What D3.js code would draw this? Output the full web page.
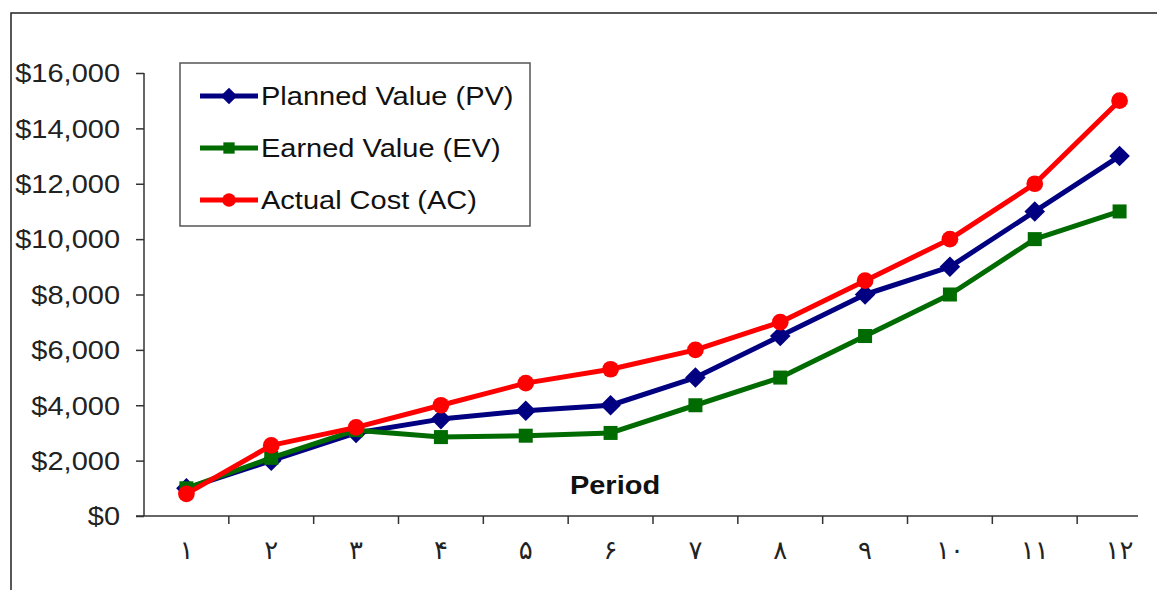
<!DOCTYPE html>
<html>
<head>
<meta charset="utf-8">
<script src="https://cdn.jsdelivr.net/npm/d3@7"></script>
<style>
  html, body { margin: 0; padding: 0; background: #fff; }
  svg { display: block; }
</style>
</head>
<body>
<svg id="chart" width="1157" height="590"></svg>
<script>
const periods = ["۱","۲","۳","۴","۵","۶","۷","۸","۹","۱۰","۱۱","۱۲"];
const yTicks = [0, 2000, 4000, 6000, 8000, 10000, 12000, 14000, 16000];
const plannedValue = [1000, 2000, 3000, 3500, 3800, 4000, 5000, 6500, 8000, 9000, 11000, 13000];
const earnedValue  = [1000, 2100, 3100, 2850, 2900, 3000, 4000, 5000, 6500, 8000, 10000, 11000];
const actualCost   = [800, 2550, 3200, 4000, 4800, 5300, 6000, 7000, 8500, 10000, 12000, 15000];
const seriesNames  = ["Planned Value (PV)", "Earned Value (EV)", "Actual Cost (AC)"];

const colors = ["#000080", "#006b00", "#ff0000"];
const shapes = [d3.symbolDiamond2, d3.symbolSquare2, d3.symbolCircle];
const series = [plannedValue, earnedValue, actualCost].map((vals, i) => ({
  name: seriesNames[i], values: vals, color: colors[i], shape: shapes[i]
}));

const svg = d3.select("#chart");
const font = "'Liberation Sans', Arial, sans-serif";
const SX = 1.16; // horizontal text stretch seen in the reference

// outer frame (top and left edges)
svg.append("path").attr("d", "M11,590 V13 H1157")
  .attr("fill", "none").attr("stroke", "#222").attr("stroke-width", 1.5);

const x = d3.scaleBand().domain(periods).range([144, 1162]);
const y = d3.scaleLinear().domain([0, 16000]).range([516, 73]);

// y axis
const yAxis = svg.append("g").attr("transform", "translate(144,0)")
  .call(d3.axisLeft(y).tickValues(yTicks).tickSize(8)
    .tickFormat(d => "$" + d3.format(",")(d)));
yAxis.select(".domain").attr("stroke", "#333").attr("stroke-width", 1.5)
  .attr("d", `M0,${y(16000)}V${y(0)}`);
yAxis.selectAll(".tick line").attr("stroke", "#333").attr("stroke-width", 1.5);
yAxis.selectAll(".tick text").attr("font-family", font).attr("font-size", 25)
  .attr("fill", "#222").attr("x", -24 / SX).attr("dy", "0.35em")
  .attr("transform", `scale(${SX},1)`);

// x axis
const xAxis = svg.append("g").attr("transform", `translate(0,${y(0)})`);
xAxis.append("line").attr("x1", 136).attr("x2", 1138).attr("y1", 0).attr("y2", 0)
  .attr("stroke", "#333").attr("stroke-width", 1.5);
xAxis.selectAll("line.tk").data(periods.slice(1)).join("line").attr("class", "tk")
  .attr("x1", d => x(d)).attr("x2", d => x(d)).attr("y1", 0).attr("y2", 8)
  .attr("stroke", "#333").attr("stroke-width", 1.5);
xAxis.selectAll("text").data(periods).join("text")
  .attr("x", d => x(d) + x.bandwidth() / 2).attr("y", 43)
  .attr("text-anchor", "middle").attr("font-family", "'DejaVu Sans', sans-serif")
  .attr("font-size", 26).attr("fill", "#222").text(d => d);

// axis title
svg.append("text").attr("transform", `translate(615,494) scale(${SX},1)`)
  .attr("text-anchor", "middle")
  .attr("font-family", font).attr("font-size", 25).attr("font-weight", "bold")
  .attr("fill", "#111").text("Period");

// lines
const line = d3.line().x((d, i) => x(periods[i]) + x.bandwidth() / 2).y(d => y(d));
const sizes = [270, 250, 220];
series.forEach((s, k) => {
  const g = svg.append("g");
  g.append("path").attr("d", line(s.values)).attr("fill", "none")
    .attr("stroke", s.color).attr("stroke-width", 5).attr("stroke-linejoin", "round");
  g.selectAll("path.m").data(s.values).join("path").attr("class", "m")
    .attr("transform", (d, i) => `translate(${x(periods[i]) + x.bandwidth() / 2},${y(d)})`)
    .attr("d", d3.symbol().type(s.shape).size(sizes[k]))
    .attr("fill", s.color);
});

// legend
const lg = svg.append("g");
lg.append("rect").attr("x", 180).attr("y", 63).attr("width", 350).attr("height", 163)
  .attr("fill", "#fff").attr("stroke", "#555").attr("stroke-width", 1.5);
series.forEach((s, i) => {
  const cy = 96 + i * 52;
  lg.append("line").attr("x1", 200).attr("x2", 258).attr("y1", cy).attr("y2", cy)
    .attr("stroke", s.color).attr("stroke-width", 5);
  lg.append("path").attr("transform", `translate(229,${cy})`)
    .attr("d", d3.symbol().type(s.shape).size(sizes[i] * 0.65)).attr("fill", s.color);
  lg.append("text").attr("transform", `translate(261,${cy + 9}) scale(${SX},1)`)
    .attr("font-family", font)
    .attr("font-size", 25).attr("fill", "#111").text(s.name);
});
</script>
</body>
</html>
